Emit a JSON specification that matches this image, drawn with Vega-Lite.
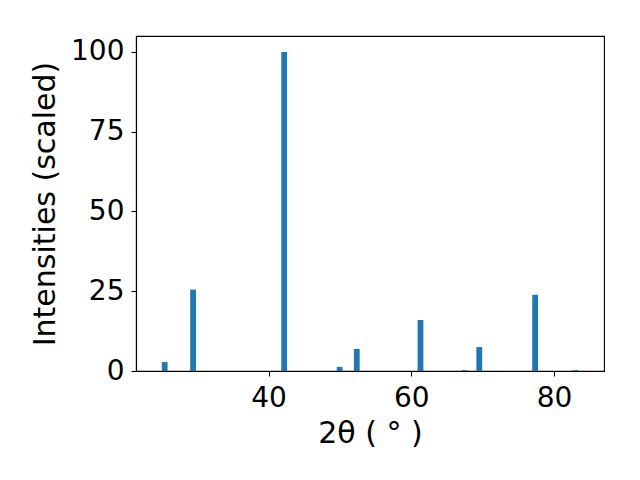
{
  "$schema": "https://vega.github.io/schema/vega-lite/v6.json",
  "width": 468,
  "height": 335,
  "autosize": {"type": "none"},
  "padding": {"left": 136, "top": 36, "right": 36, "bottom": 109},
  "config": {
    "view": {"stroke": "black", "strokeWidth": 1.1},
    "font": "DejaVu Sans",
    "axis": {
      "grid": false,
      "domainColor": "black",
      "domainWidth": 1.1,
      "tickColor": "black",
      "tickWidth": 1.1,
      "tickSize": 5,
      "labelFont": "DejaVu Sans",
      "labelFontSize": 28,
      "labelColor": "black",
      "titleFont": "DejaVu Sans",
      "titleFontSize": 30,
      "titleFontWeight": "normal",
      "titleColor": "black"
    }
  },
  "data": {
    "values": [
      {"two_theta": 25.44, "intensity": 2.8},
      {"two_theta": 29.42, "intensity": 25.5},
      {"two_theta": 42.19, "intensity": 100},
      {"two_theta": 49.96, "intensity": 1.3},
      {"two_theta": 52.36, "intensity": 6.9},
      {"two_theta": 61.29, "intensity": 16.0},
      {"two_theta": 67.47, "intensity": 0.3},
      {"two_theta": 69.53, "intensity": 7.5},
      {"two_theta": 77.36, "intensity": 23.9},
      {"two_theta": 82.99, "intensity": 0.3}
    ]
  },
  "mark": {"type": "bar", "size": 5.8, "color": "#1f77b4"},
  "encoding": {
    "x": {
      "field": "two_theta",
      "type": "quantitative",
      "title": "2θ ( ° )",
      "scale": {"domain": [22.12, 86.31], "nice": false, "zero": false},
      "axis": {"values": [40, 60, 80], "labelPadding": 8, "titlePadding": 6}
    },
    "y": {
      "field": "intensity",
      "type": "quantitative",
      "title": "Intensities (scaled)",
      "scale": {"domain": [0, 105], "nice": false},
      "axis": {"values": [0, 25, 50, 75, 100], "labelPadding": 7, "titlePadding": 10}
    }
  }
}
